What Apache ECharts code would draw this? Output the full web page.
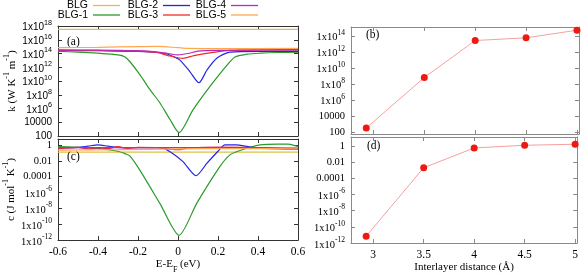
<!DOCTYPE html>
<html>
<head>
<meta charset="utf-8">
<script src="https://cdn.jsdelivr.net/npm/echarts@6/dist/echarts.min.js"></script>
<style>html,body{margin:0;padding:0;background:#fff}#c{width:581px;height:275px}</style>
</head>
<body>
<div id="c"></div>
<script>
// ---------- data ----------
const seriesNames = ['BLG', 'BLG-1', 'BLG-2', 'BLG-3', 'BLG-4', 'BLG-5'];

// panel (a): thermal conductivity k vs E-EF
const kE_BLG = [-0.6, 0.6];
const k_BLG  = [3.3e17, 3.3e17];
const kE_1 = [-0.6, -0.5, -0.4, -0.3, -0.265, -0.24, -0.19, -0.14, -0.09, -0.04, 0.005, 0.075, 0.16, 0.245, 0.285, 0.345, 0.41, 0.5, 0.6];
const k_1  = [2e14, 1.6e14, 1.1e14, 6.3e13, 3.2e13, 6.3e12, 7.9e10, 5.6e8, 6.3e6, 2.5e4, 3.2e2, 6.3e5, 1.6e9, 2e12, 3.2e13, 7.9e13, 1.1e14, 1.4e14, 1.6e14];
const kE_2 = [-0.6, -0.4, -0.2, -0.1, -0.05, -0.02, 0.01, 0.06, 0.105, 0.145, 0.195, 0.26, 0.4, 0.6];
const k_2  = [2.8e14, 2.5e14, 2e14, 1.4e14, 7.9e13, 3.2e13, 1.1e13, 2.2e11, 5.6e9, 4e11, 2.2e13, 1.6e14, 2e14, 2e14];
const kE_3 = [-0.6, -0.4, -0.2, -0.1, -0.05, 0.025, 0.08, 0.15, 0.26, 0.4, 0.6];
const k_3  = [3.2e14, 2.8e14, 2.2e14, 1.3e14, 5e13, 2e13, 5e13, 1.1e14, 2.8e14, 3.5e14, 4e14];
const kE_4 = [-0.6, -0.3, -0.15, -0.05, 0, 0.05, 0.1, 0.2, 0.6];
const k_4  = [3.2e14, 2.8e14, 2.2e14, 1e14, 6.3e13, 1e14, 2.2e14, 2.8e14, 3.2e14];
const kE_5 = [-0.6, -0.4, -0.2, -0.1, 0, 0.05, 0.2, 0.6];
const k_5  = [7e14, 8e14, 1e15, 1.1e15, 7e14, 5.6e14, 5e14, 5.6e14];

// panel (c): heat capacity c vs E-EF
const cE_BLG = [-0.6, 0.6];
const c_BLG  = [0.125, 0.125];
const cE_1 = [-0.6, -0.5, -0.45, -0.35, -0.3, -0.265, -0.24, -0.19, -0.09, 0.005, 0.095, 0.21, 0.26, 0.31, 0.41, 0.5, 0.55, 0.6];
const c_1  = [0.63, 0.5, 0.45, 0.25, 0.16, 0.08, 0.04, 6.3e-4, 4e-8, 4e-12, 5e-8, 2e-3, 0.056, 0.2, 1.0, 1.3, 1.25, 0.63];
const cE_2 = [-0.6, -0.5, -0.45, -0.4, -0.35, -0.3, -0.2, -0.1, -0.075, -0.025, 0.025, 0.09, 0.145, 0.2, 0.235, 0.29, 0.35, 0.4, 0.6];
const c_2  = [0.45, 0.5, 0.7, 1.0, 0.7, 0.5, 0.45, 0.45, 0.4, 0.08, 8e-3, 1.3e-4, 5e-3, 0.16, 1.0, 1.0, 0.63, 0.4, 0.32];
const cE_3 = [-0.6, -0.5, -0.45, -0.4, -0.35, -0.3, -0.25, -0.2, -0.1, -0.05, 0, 0.05, 0.15, 0.3, 0.45, 0.6];
const c_3  = [0.32, 0.5, 0.32, 0.45, 0.35, 0.63, 0.35, 0.5, 0.45, 0.32, 0.25, 0.4, 0.5, 0.5, 0.4, 0.28];
const cE_4 = [-0.6, -0.3, 0, 0.2, 0.6];
const c_4  = [0.45, 0.45, 0.45, 0.5, 0.4];
const cE_5 = [-0.6, -0.3, 0, 0.3, 0.6];
const c_5  = [0.22, 0.25, 0.32, 0.35, 0.32];

// panels (b),(d): vs interlayer distance
const distance = [2.93, 3.5, 4, 4.5, 5];
const kDist = [3.1e2, 6.3e8, 2.6e13, 5.6e13, 5.0e14];
const cDist = [6.8e-12, 2e-3, 0.56, 1.2, 1.6];

// tick values
const leftXTicks = [-0.6, -0.4, -0.2, 0, 0.2, 0.4, 0.6];
const distTicks = [3, 3.5, 4, 4.5, 5];
const kExpTicks = [2, 4, 6, 8, 10, 12, 14, 16, 18];
const kDistExpTicks = [2, 4, 6, 8, 10, 12, 14];
const cExpTicks = [-12, -10, -8, -6, -4, -2, 0];

// ---------- styling ----------
const colors = ['#dcc04a', '#2a9a2a', '#2424e6', '#f42828', '#b82ab8', '#ffa850'];
const SERIF = '"Liberation Serif", "DejaVu Serif", serif';
const SANS = '"Liberation Sans", Arial, sans-serif';
const leftFrame = '#333';
const rightFrame = '#8a8a8a';

function expLabel(v) {
  const n = Math.round(v);
  if (n >= 5 || n <= -5) return '{b|1x10}{s|' + n + '}';
  if (n >= 0) return '{p|' + String(Math.pow(10, n)) + '}';
  return '{p|' + Math.pow(10, n).toFixed(-n) + '}';
}
function richFor(font, size, lh) {
  return {
    p: { fontFamily: font, fontSize: size, color: '#000' },
    b: { fontFamily: font, fontSize: size, color: '#000', verticalAlign: 'bottom', lineHeight: lh },
    s: { fontFamily: font, fontSize: size * 0.72, color: '#000', verticalAlign: 'top' }
  };
}
const nameRich = {
  b: { fontFamily: SERIF, fontSize: 11, color: '#000', verticalAlign: 'bottom', lineHeight: 15 },
  s: { fontFamily: SERIF, fontSize: 8, color: '#000', verticalAlign: 'top' }
};
function toLog(xs, ys) { return xs.map((x, i) => [x, Math.log10(ys[i])]); }

function yPair(gridIndex, min, max, ticks, frame, showLabels, font, size, lh, name, nameGap) {
  const main = {
    type: 'value', gridIndex, position: 'left', min, max,
    axisLine: { show: true, onZero: false, lineStyle: { color: frame, width: 1 } },
    axisTick: { show: true, inside: true, length: 4, customValues: ticks, lineStyle: { color: frame } },
    axisLabel: { show: showLabels, customValues: ticks, formatter: expLabel, margin: 6, hideOverlap: false,
      showMinLabel: true, showMaxLabel: true, rich: richFor(font, size, lh) },
    splitLine: { show: false }
  };
  if (name) {
    main.name = name; main.nameLocation = 'middle'; main.nameGap = nameGap; main.nameRotate = 90;
    main.nameTextStyle = { fontFamily: SERIF, fontSize: 11, color: '#000', rich: nameRich };
  }
  const mirror = {
    type: 'value', gridIndex, position: 'right', min, max,
    axisLine: { show: true, onZero: false, lineStyle: { color: frame, width: 1 } },
    axisTick: { show: true, inside: true, length: 4, customValues: ticks, lineStyle: { color: frame } },
    axisLabel: { show: false }, splitLine: { show: false }
  };
  return [main, mirror];
}
function xPair(gridIndex, min, max, ticks, frame, showLabels, fmt, name, nameGap, rich) {
  const main = {
    type: 'value', gridIndex, position: 'bottom', min, max,
    axisLine: { show: true, onZero: false, lineStyle: { color: frame, width: 1 } },
    axisTick: { show: true, inside: true, length: 4, customValues: ticks, lineStyle: { color: frame } },
    axisLabel: { show: showLabels, customValues: ticks, formatter: fmt, margin: 6, hideOverlap: false,
      showMinLabel: true, showMaxLabel: true, fontFamily: SERIF, fontSize: 11.5, color: '#000' },
    splitLine: { show: false }
  };
  if (name) {
    main.name = name; main.nameLocation = 'middle'; main.nameGap = nameGap;
    main.nameTextStyle = { fontFamily: SERIF, fontSize: 11, color: '#000', rich };
  }
  const mirror = {
    type: 'value', gridIndex, position: 'top', min, max,
    axisLine: { show: true, onZero: false, lineStyle: { color: frame, width: 1 } },
    axisTick: { show: true, inside: true, length: 4, customValues: ticks, lineStyle: { color: frame } },
    axisLabel: { show: false }, splitLine: { show: false }
  };
  return [main, mirror];
}
const eFmt = v => { const s = (Math.round(v * 10) / 10).toFixed(1); return (s === '0.0' || s === '-0.0') ? '0' : s; };
const dFmt = v => String(v);

const kSets = [[kE_BLG, k_BLG], [kE_1, k_1], [kE_2, k_2], [kE_3, k_3], [kE_4, k_4], [kE_5, k_5]];
const cSets = [[cE_BLG, c_BLG], [cE_1, c_1], [cE_2, c_2], [cE_3, c_3], [cE_4, c_4], [cE_5, c_5]];

const series = [];
seriesNames.forEach((nm, i) => {
  series.push({ name: nm, type: 'line', xAxisIndex: 0, yAxisIndex: 0, data: toLog(kSets[i][0], kSets[i][1]),
    symbol: 'none', smooth: 0.25, lineStyle: { width: 1.2, color: colors[i] }, itemStyle: { color: colors[i] }, z: 2 + i });
  series.push({ name: nm, type: 'line', xAxisIndex: 2, yAxisIndex: 2, data: toLog(cSets[i][0], cSets[i][1]),
    symbol: 'none', smooth: 0.25, lineStyle: { width: 1.2, color: colors[i] }, itemStyle: { color: colors[i] }, z: 2 + i });
});
series.push({ name: 'k(d)', type: 'line', xAxisIndex: 4, yAxisIndex: 4, data: toLog(distance, kDist),
  symbol: 'circle', symbolSize: 7, lineStyle: { width: 1, color: '#f6a0a0' }, itemStyle: { color: '#ee1a12' } });
series.push({ name: 'c(d)', type: 'line', xAxisIndex: 6, yAxisIndex: 6, data: toLog(distance, cDist),
  symbol: 'circle', symbolSize: 7, lineStyle: { width: 1, color: '#f6a0a0' }, itemStyle: { color: '#ee1a12' } });

// legends: right-aligned text followed by a line sample, 3 columns x 2 rows
const legendPos = [[461, 0], [461, 9.5], [391, 0], [391, 9.5], [323, 0], [323, 9.5]];
const legends = seriesNames.map((nm, i) => ({
  data: [nm], right: legendPos[i][0], top: legendPos[i][1], align: 'right', orient: 'horizontal',
  icon: 'rect', itemWidth: 27, itemHeight: 1.3, padding: 0, selectedMode: false,
  textStyle: { fontFamily: SANS, fontSize: 10.5, color: '#000', lineHeight: 10 }
}));

const xAxes = [].concat(
  xPair(0, -0.6, 0.6, leftXTicks, leftFrame, false, eFmt),
  xPair(1, -0.6, 0.6, leftXTicks, leftFrame, true, eFmt, '{b|E-E}{u|F}{b| (eV)}', 17, {
    b: { fontFamily: SERIF, fontSize: 11, color: '#000', verticalAlign: 'top', lineHeight: 15 },
    u: { fontFamily: SERIF, fontSize: 8, color: '#000', verticalAlign: 'bottom' }
  }),
  xPair(2, 2.78, 5.02, distTicks, rightFrame, false, dFmt),
  xPair(3, 2.78, 5.02, distTicks, rightFrame, true, dFmt, 'Interlayer distance (Å)', 17)
);
const yAxes = [].concat(
  yPair(0, 2, 18, kExpTicks, leftFrame, true, SANS, 10, 13, '{b|k (W K}{s|-1}{b| m}{s|-1}{b|)}', 40),
  yPair(1, -12, 0.75, cExpTicks, leftFrame, true, SERIF, 10.5, 14.5, '{b|c (J mol}{s|-1}{b| K}{s|-1}{b|)}', 40),
  yPair(2, 1.75, 15.1, kDistExpTicks, rightFrame, true, SERIF, 10.5, 14.5),
  yPair(3, -12, 1.1, cExpTicks, rightFrame, true, SERIF, 10.5, 14.5)
);

const panelLabel = (txt, left, top) => ({ text: txt, left, top, padding: 0,
  textStyle: { fontFamily: SERIF, fontSize: 11.5, fontWeight: 'normal', color: '#000' } });

const option = {
  animation: false,
  backgroundColor: '#fff',
  title: [panelLabel('(a)', 67, 36), panelLabel('(c)', 67, 151), panelLabel('(b)', 366, 29), panelLabel('(d)', 367, 140)],
  legend: legends,
  grid: [
    { left: 58, top: 26, width: 240, height: 110 },
    { left: 58, top: 139, width: 240, height: 103 },
    { left: 351, top: 27, width: 228, height: 107 },
    { left: 351, top: 137, width: 228, height: 106 }
  ],
  xAxis: xAxes,
  yAxis: yAxes,
  series
};
const chart = echarts.init(document.getElementById('c'), null, { renderer: 'canvas' });
chart.setOption(option);
</script>
</body>
</html>
